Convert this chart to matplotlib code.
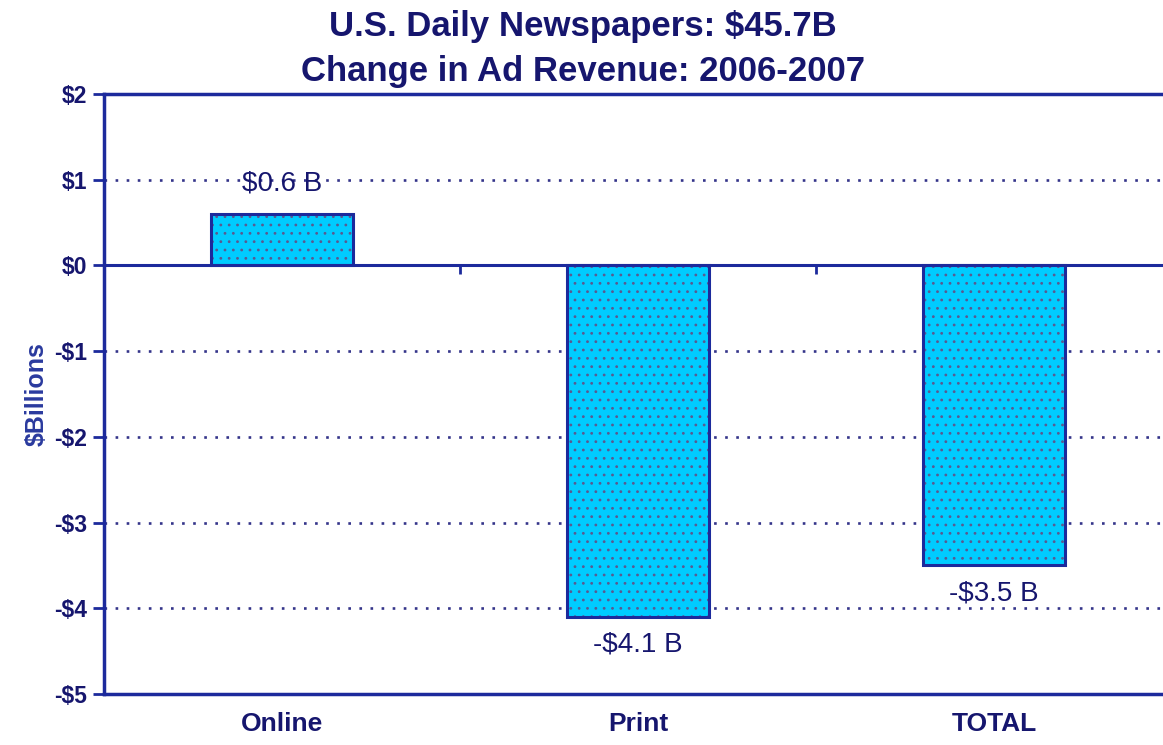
import matplotlib
matplotlib.use("Agg")
import matplotlib.pyplot as plt
import numpy as np

categories = ["Online", "Print", "TOTAL"]
values = [0.6, -4.1, -3.5]
bar_labels = ["$0.6 B", "-$4.1 B", "-$3.5 B"]
yticks = [2, 1, 0, -1, -2, -3, -4, -5]
ytick_labels = ["$2", "$1", "$0", "-$1", "-$2", "-$3", "-$4", "-$5"]
title = "U.S. Daily Newspapers: $45.7B\nChange in Ad Revenue: 2006-2007"
ylabel = "$Billions"

plt.rcParams['font.family'] = ['Liberation Sans', 'DejaVu Sans']
plt.rcParams['hatch.linewidth'] = 0.8

navy = "#1c2a9c"
text_navy = "#16166e"
cyan = "#00ccff"

fig = plt.figure(figsize=(11.63, 7.45), dpi=100)
ax = fig.add_axes([104/1163, 1-694/745, 3*356/1163, 600/745])

x = np.arange(len(categories))
ax.bar(x, values, width=0.4, color=cyan, edgecolor=navy, linewidth=2, zorder=3)
ax.bar(x, values, width=0.4, color="none", edgecolor="#5a5a90", linewidth=0,
       hatch="..", zorder=3.5)
ax.bar(x, values, width=0.4, color="none", edgecolor=navy, linewidth=2.2, zorder=4)

ax.set_xlim(-0.5, len(categories) - 0.5)
ax.set_ylim(min(yticks), max(yticks))

# gridlines
for yv in yticks:
    if yv in (0, max(yticks), min(yticks)):
        continue
    ax.axhline(yv, color="#34348a", linewidth=1.9, linestyle=(0, (1, 3.2)), zorder=1)
ax.axhline(0, color=navy, linewidth=2.2, zorder=5)
ax.axhline(max(yticks), color=navy, linewidth=2.5, zorder=5, clip_on=False)
# category separator ticks on zero line
ax.vlines(x[:-1] + 0.5, -0.1, 0, color=navy, linewidth=2, zorder=5)

for s in ["top", "right"]:
    ax.spines[s].set_visible(False)
for s in ["left", "bottom"]:
    ax.spines[s].set_color(navy)
    ax.spines[s].set_linewidth(2.5)

ax.set_yticks(yticks)
ax.set_yticklabels(ytick_labels, fontsize=16.5, fontweight="bold", color=text_navy)
ax.tick_params(axis="y", length=8, width=2, color=navy, pad=4)
ax.set_xticks(x)
ax.set_xticklabels(categories, fontsize=19, fontweight="bold", color=text_navy)
ax.tick_params(axis="x", length=0, pad=13)

ax.set_ylabel(ylabel, fontsize=18, fontweight="bold", color="#2a3a9e", labelpad=4)

for xi, v, lab in zip(x, values, bar_labels):
    if v >= 0:
        ax.annotate(lab, (xi, v), xytext=(0, 22), textcoords="offset points",
                    ha="center", va="center", fontsize=20, color=text_navy, zorder=6)
    else:
        ax.annotate(lab, (xi, v), xytext=(0, -20), textcoords="offset points",
                    ha="center", va="center", fontsize=20, color=text_navy, zorder=6)

fig.text(583/1163, 1 - 49/745, title, ha="center", va="center", fontsize=25,
         fontweight="bold", color=text_navy, linespacing=1.45)

fig.savefig("out.png", dpi=100, facecolor="white")
